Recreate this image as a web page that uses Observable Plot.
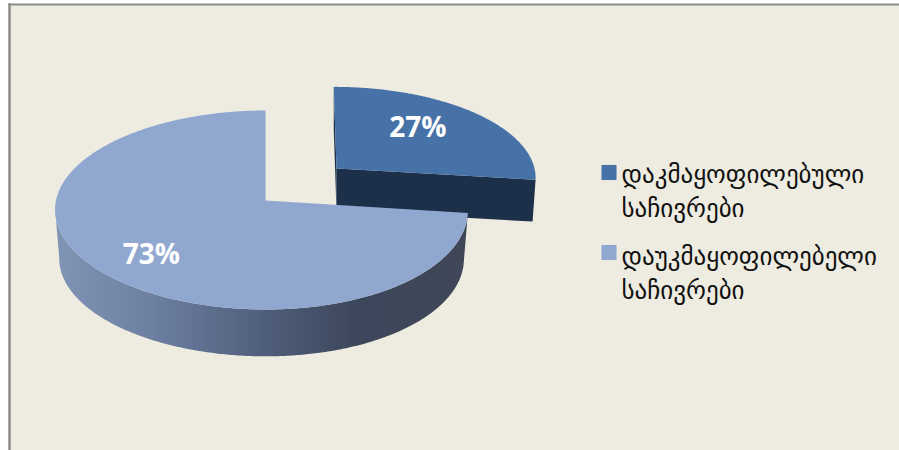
<!DOCTYPE html>
<html>
<head>
<meta charset="utf-8">
<script src="https://cdn.jsdelivr.net/npm/d3@7"></script>
<script src="https://cdn.jsdelivr.net/npm/@observablehq/plot@0.6"></script>
<style>
  html, body { margin: 0; padding: 0; background: #fff; }
  svg { display: block; }
</style>
</head>
<body>
<div id="chart"></div>
<script>
// Complaint outcomes, in percent
const categories = ["დაკმაყოფილებული\nსაჩივრები", "დაუკმაყოფილებელი\nსაჩივრები"];
const shares = [27, 73];
const faceColors = ["#4672a8", "#90a8d0"];

const panelColor = "#eeebe0";
const borderColor = "#8c8c8c";
const wallDark = "#1d3049";

// Tilted-disc projection for each slice; the first slice is pulled away from the second.
const discs = [
  {cx: 336, cy: 168, rx: 198, ry: 89, k: 0.09, bow: 0, shear: 3, depth: 42, shrink: 0.985},
  {cx: 265, cy: 200, rx: 205.5, ry: 98.6, k: 0.0955, bow: 4, shear: 0, depth: 49, shrink: 0.98}
];
const labelReach = [0.575, 0.70];
const labelNudge = [-8, 7];
// The outer wall is visible up to the disc's leftmost point
const leftmostAngle = 265 * Math.PI / 180;

function project(d, u, v, lower = false) {
  const s = lower ? d.shrink : 1;
  const w = 1 - d.k * v;
  return {
    x: d.cx + s * (d.rx * u - d.bow * u * u + d.shear * v) / w,
    y: d.cy + (lower ? d.depth : 0) + s * (d.ry * v) / w
  };
}
// Angle runs clockwise from twelve o'clock
const rim = (d, a, lower) => project(d, Math.sin(a), -Math.cos(a), lower);

function arcAngles(a0, a1) {
  const n = Math.ceil(Math.abs(a1 - a0) / 0.01);
  return d3.range(n + 1).map((i) => a0 + (a1 - a0) * i / n);
}

const total = d3.sum(shares);
const stops = d3.cumsum(shares).map((c) => c / total * 2 * Math.PI);
const spans = shares.map((_, i) => [i ? stops[i - 1] : 0, stops[i]]);

const face = (d, [a0, a1]) => [
  project(d, 0, 0),
  ...arcAngles(a0, a1).map((a) => rim(d, a))
];
const band = (d, a0, a1) => {
  const angles = arcAngles(a0, a1);
  return [...angles.map((a) => rim(d, a)), ...angles.reverse().map((a) => rim(d, a, true))];
};
// Flat wall running from the disc centre out to the rim at angle a
const wall = (d, a) => [
  project(d, 0, 0), rim(d, a), rim(d, a, true), project(d, 0, 0, true)
];

const [small, large] = discs;
const [smallSpan, largeSpan] = spans;

const labelPoints = shares.map((v, i) => {
  const mid = (spans[i][0] + spans[i][1]) / 2;
  const r = labelReach[i];
  const p = project(discs[i], r * Math.sin(mid), -r * Math.cos(mid));
  return {x: p.x, y: p.y + labelNudge[i], text: `${v}%`};
});

const legendRows = [158, 240];
const swatchRows = [172, 252];
const legendItems = categories.map((label, i) => ({label, i, y: legendRows[i], swatch: swatchRows[i]}));

const sideShade = () => {
  const defs = d3.create("svg:defs");
  const grad = defs.append("linearGradient").attr("id", "side-shade");
  [[0, "#8094b6"], [0.22, "#6e81a3"], [0.5, "#505f7c"], [0.72, "#3d475c"], [1, "#3f4757"]]
    .forEach(([o, c]) => grad.append("stop").attr("offset", o).attr("stop-color", c));
  return defs.node();
};

const solid = (pts, fill) => Plot.line(pts, {x: "x", y: "y", fill, stroke: "none"});

const chart = Plot.plot({
  width: 899,
  height: 450,
  marginLeft: 9,
  marginTop: 4,
  marginRight: 0,
  marginBottom: 0,
  x: {domain: [9, 899], range: [9, 899], axis: null},
  y: {domain: [4, 450], range: [4, 450], axis: null},
  style: {background: "#fff"},
  marks: [
    sideShade,
    Plot.frame({fill: panelColor, stroke: "none"}),
    Plot.frame({anchor: "left", stroke: borderColor, strokeWidth: 2.5}),
    Plot.frame({anchor: "top", stroke: borderColor, strokeWidth: 2}),

    // pulled-out slice
    solid(wall(small, smallSpan[0]), wallDark),
    solid(wall(small, smallSpan[1]), wallDark),
    solid(face(small, smallSpan), faceColors[0]),

    // main slice
    solid(band(large, largeSpan[0], leftmostAngle), "url(#side-shade)"),
    solid(face(large, largeSpan), faceColors[1]),

    Plot.text(labelPoints, {
      x: "x", y: "y", text: "text",
      fill: "#fff", fontSize: 28, fontWeight: 700, fontFamily: "Open Sans"
    }),

    // legend
    Plot.dot(legendItems, {
      x: () => 608.5, y: "swatch", r: 8.5, symbol: "square",
      fill: (d) => faceColors[d.i], stroke: "none"
    }),
    Plot.text(legendItems, {
      x: () => 621, y: "y", text: "label", textAnchor: "start", lineAnchor: "top",
      lineHeight: 1.36,
      fill: "#111", fontSize: 25, fontFamily: "DejaVu Sans"
    })
  ]
});

document.getElementById("chart").append(chart);
</script>
</body>
</html>
